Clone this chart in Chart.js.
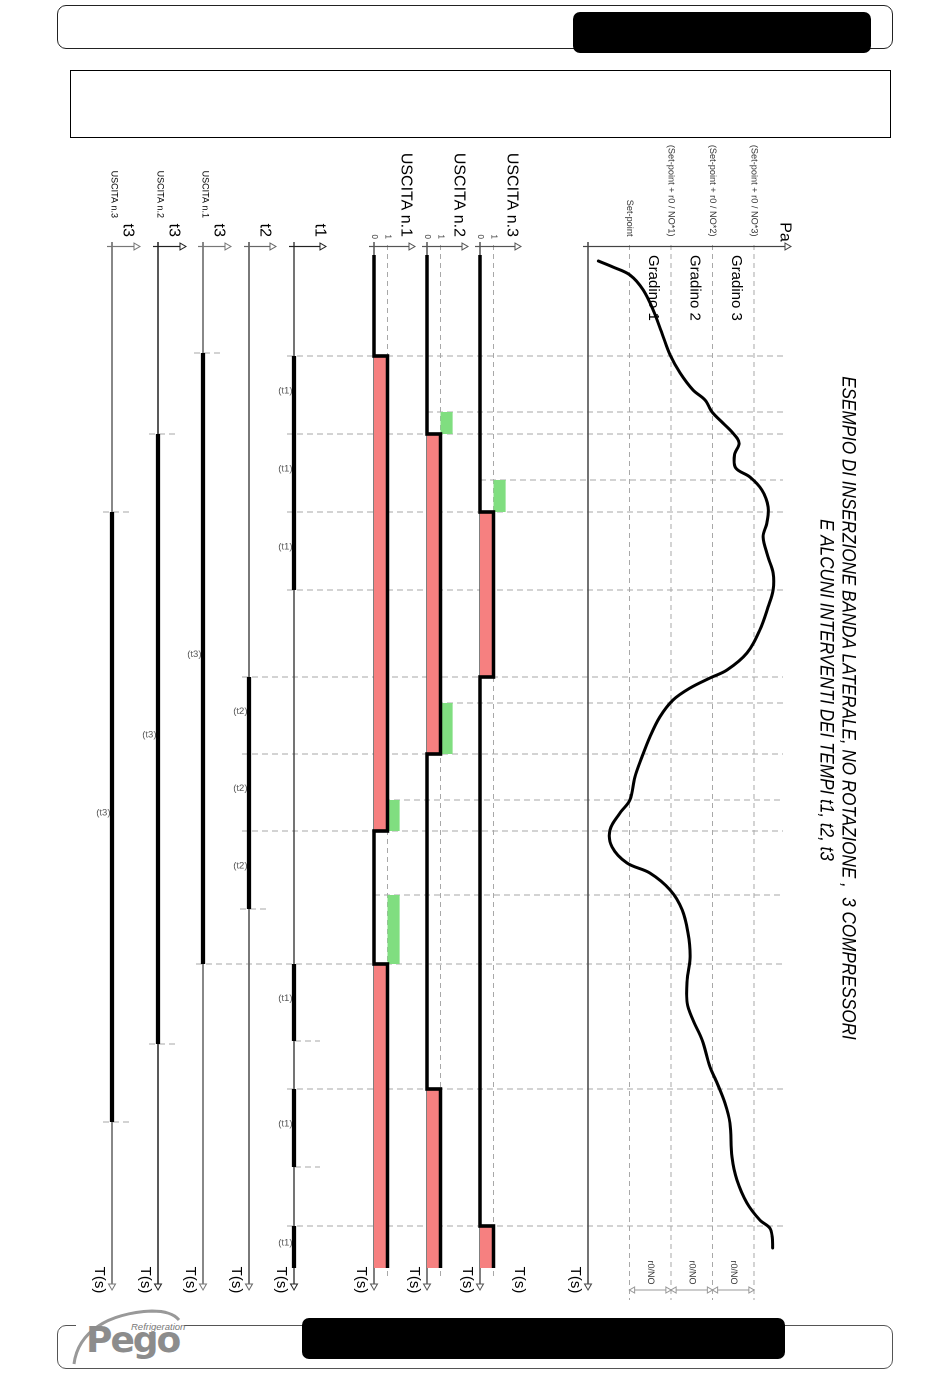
<!DOCTYPE html>
<html><head><meta charset="utf-8">
<script src="https://cdn.jsdelivr.net/npm/chart.js@4.4.1/dist/chart.umd.min.js"></script>
<style>
html,body{margin:0;padding:0;background:#fff;width:950px;height:1378px;overflow:hidden;position:relative;font-family:"Liberation Sans",Arial,sans-serif}
.abs{position:absolute;box-sizing:border-box}
#hdr{left:57px;top:5px;width:836px;height:44px;border:1.5px solid #222;border-radius:9px}
#hdrblk{left:573px;top:12px;width:298px;height:41px;background:#000;border-radius:7px}
#box{left:70px;top:70px;width:821px;height:68px;border:1px solid #000}
#ftr{left:57px;top:1325px;width:836px;height:44px;border:1.5px solid #555;border-radius:9px}
#ftrcover{left:76px;top:1318px;width:108px;height:14px;background:#fff}
#ftrblk{left:302px;top:1318px;width:483px;height:41px;background:#000;border-radius:7px}
#pego{left:86px;top:1318px;font:bold 36px "DejaVu Sans",sans-serif;color:#8c8c8c;letter-spacing:-2px;line-height:44px}
#refr{left:131px;top:1321px;font:italic 9.5px "Liberation Sans",Arial,sans-serif;color:#777}
#rot{position:absolute;left:0;top:0;width:1170px;height:800px;transform-origin:0 0;transform:translate(885px,140px) rotate(90deg)}
</style></head><body>
<div id="hdr" class="abs"></div>
<div id="hdrblk" class="abs"></div>
<div id="box" class="abs"></div>
<div id="ftr" class="abs"></div>
<div id="ftrcover" class="abs"></div>
<svg class="abs" style="left:60px;top:1300px" width="140" height="75"><path d="M14 64 C 18 32, 48 13, 92 11 C 106 11, 114 14, 119 20" fill="none" stroke="#999" stroke-width="3"/></svg>
<div id="refr" class="abs">Refrigeration</div>
<div id="pego" class="abs">Pego</div>
<div id="ftrblk" class="abs"></div>
<div id="rot"><canvas id="c" width="1170" height="800"></canvas></div>
<script>
// ================= DATA =================
// pressure curve: [time (s), pressure in units of the r0/NO band above the origin]
const pressureCurve = [[1.6,0.25],[2.2,0.60],[3.0,1.01],[4.5,1.33],[6.5,1.57],[8.8,1.78],[11.0,1.98],[12.8,2.22],[14.5,2.53],[15.5,2.82],[16.7,2.99],[17.8,3.25],[18.8,3.49],[19.8,3.64],[21.0,3.53],[22.3,3.56],[23.2,3.90],[24.5,4.19],[26.2,4.34],[27.8,4.31],[29.2,4.22],[31.2,4.34],[32.8,4.46],[34.5,4.46],[36.2,4.34],[38.5,4.14],[40.8,3.83],[42.5,3.35],[43.3,2.94],[44.3,2.46],[45.5,2.05],[47.2,1.73],[49.2,1.49],[51.2,1.30],[53.2,1.13],[55.5,1.01],[56.8,0.77],[58.5,0.53],[60.2,0.58],[61.8,0.94],[62.8,1.49],[64.5,1.98],[66.5,2.27],[68.8,2.41],[71.2,2.46],[73.5,2.39],[75.8,2.39],[77.5,2.53],[79.5,2.75],[82.2,2.94],[83.8,3.11],[85.8,3.30],[87.8,3.42],[91.2,3.47],[93.5,3.59],[95.8,3.83],[97.5,4.14],[98.3,4.38],[99.2,4.44],[100.3,4.45]];
const levelValues = [1, 2, 3, 4];
const levelLabels = ['Set-point', '(Set-point + r0 / NO*1)', '(Set-point + r0 / NO*2)', '(Set-point + r0 / NO*3)'];
const stepLabels = ['Gradino 1', 'Gradino 2', 'Gradino 3'];
const bandLabel = 'r0/NO';
// compressor outputs (state changes)
const out1Times = [1.0, 11.1, 58.6, 71.9, 102.3];
const out1States = [0, 1, 0, 1, 1];
const out2Times = [1.0, 18.9, 50.9, 84.4, 102.3];
const out2States = [0, 1, 0, 1, 1];
const out3Times = [1.0, 26.7, 43.2, 98.1, 102.3];
const out3States = [0, 1, 0, 1, 1];
// waiting requests (green)
const out1Waits = [[55.5, 58.6], [65.0, 71.9]];
const out2Waits = [[16.7, 18.9], [45.8, 50.9]];
const out3Waits = [[23.5, 26.7]];
// timers
const t1Runs = [[11.1, 18.9], [18.9, 26.7], [26.7, 34.5], [71.9, 79.6], [84.4, 92.2], [98.1, 102.3]];
const t2Runs = [[43.2, 50.9], [50.9, 58.6], [58.6, 66.4]];
const t3Out1Runs = [[10.8, 71.9]];
const t3Out2Runs = [[18.9, 79.9]];
const t3Out3Runs = [[26.7, 87.7]];
const outputNames = ['USCITA n.1', 'USCITA n.2', 'USCITA n.3'];
const timerNames = ['t1', 't2', 't3'];
const axisTimeLabel = 'T(s)';
const axisPressureLabel = 'Pa';
const title1 = 'ESEMPIO DI INSERZIONE BANDA LATERALE, NO ROTAZIONE ,  3 COMPRESSORI';
const title2 = 'E ALCUNI INTERVENTI DEI TEMPI t1, t2, t3';
// event guides: [time, channel the dashed line starts from]
const guideEvents = [[11.1,'yT1'],[16.7,'y2'],[18.9,'yT1'],[23.5,'y3'],[26.7,'yT1'],[34.5,'yT1'],[43.2,'yT2'],[45.8,'y2'],[50.9,'yT2'],[55.5,'y1'],[58.6,'yT2'],[65.0,'y1'],[71.9,'yT31'],[84.4,'yT1'],[98.1,'yT1']];
const timerEnds = [[10.8,'yT31'],[18.9,'yT32'],[26.7,'yT33'],[66.4,'yT2'],[79.6,'yT1'],[79.9,'yT32'],[87.7,'yT33'],[92.2,'yT1']];

// ================= LAYOUT =================
const PAGE_LEFT = 85, PAGE_RIGHT = 885, PAGE_TOP = 140, CW = 1170;
const T0_PAGE = 245, PX_PER_S = 10;
const channels = {
  yP: {zero: 588, ppu: 41.5},
  y3: {zero: 480, ppu: 13.5}, y2: {zero: 427, ppu: 13.5}, y1: {zero: 374, ppu: 13.5},
  yT1: {zero: 294, ppu: 10}, yT2: {zero: 249, ppu: 10},
  yT31: {zero: 203, ppu: 10}, yT32: {zero: 158, ppu: 10}, yT33: {zero: 112, ppu: 10}
};
const PINK = 'rgb(246,128,128)', GREEN = 'rgb(128,222,128)', AX = '#555', DASH = '#a8a8a8';
const FONT = '"Liberation Sans", Arial, sans-serif';

const scales = {x: {type: 'linear', display: false, min: (PAGE_TOP - T0_PAGE) / PX_PER_S, max: (PAGE_TOP + CW - T0_PAGE) / PX_PER_S}};
Object.keys(channels).forEach(id => {
  const c = channels[id];
  scales[id] = {type: 'linear', axis: 'y', display: false, min: (PAGE_LEFT - c.zero) / c.ppu, max: (PAGE_RIGHT - c.zero) / c.ppu};
});
const px = (id, n) => n / channels[id].ppu;   // page pixels -> channel units

const ds = [];
function addLine(id, pts, o) {
  ds.push(Object.assign({yAxisID: id, data: pts.map(p => ({x: p[0], y: p[1]})), showLine: true, pointRadius: 0, borderColor: '#000', borderWidth: 1, fill: false, order: 5}, o || {}));
}
function arrowOpts(color, rot) {
  return {pointRadius: [0, 4], pointStyle: 'triangle', pointRotation: [0, rot], pointBackgroundColor: '#fff', pointBorderColor: color, pointBorderWidth: 1};
}
function addAxis(id, color, width, stubTop) {
  addLine(id, [[-0.3, 0], [104.1, 0]], Object.assign({borderColor: color, borderWidth: width, order: 4}, arrowOpts(color, 90)));
  addLine(id, [[0.15, px(id, -5)], [0.15, px(id, stubTop)]], Object.assign({borderColor: color, borderWidth: 1.2, order: 4}, arrowOpts(color, 0)));
}
function merge(runs) {
  const m = [];
  runs.forEach(r => { if (m.length && Math.abs(m[m.length - 1][1] - r[0]) < 1e-6) m[m.length - 1][1] = r[1]; else m.push([r[0], r[1]]); });
  return m;
}
function addRuns(id, runs) {
  const pts = [];
  merge(runs).forEach((r, i, a) => { if (i) pts.push([(a[i - 1][1] + r[0]) / 2, null]); pts.push([r[0], 0], [r[1], 0]); });
  addLine(id, pts, {borderWidth: 4.2, spanGaps: false, order: 2, borderCapStyle: 'butt'});
}

// pressure panel
addLine('yP', pressureCurve, {borderWidth: 3, tension: 0.35, order: 1, borderCapStyle: 'round'});
levelValues.forEach(v => addLine('yP', [[0, v], [105.5, v]], {borderColor: DASH, borderDash: [5, 4], order: 9}));
levelValues.slice(1).forEach(v => addLine('yP', [[104.5, v - 0.92], [104.5, v - 0.08]],
  {borderColor: '#999', borderWidth: 1, order: 4, pointRadius: [3.5, 3.5], pointStyle: 'triangle', pointRotation: [180, 0], pointBackgroundColor: '#fff', pointBorderColor: '#999', pointBorderWidth: 1}));
addAxis('yP', '#444', 1.6, 199);

// outputs
[['y1', out1Times, out1States, out1Waits], ['y2', out2Times, out2States, out2Waits], ['y3', out3Times, out3States, out3Waits]].forEach(([id, ts, st, waits]) => {
  addLine(id, [[0, 1], [103.5, 1]], {borderColor: DASH, borderDash: [5, 4], order: 9});
  addAxis(id, AX, 1.4, 37);
  addLine(id, ts.map((t, i) => [t, st[i]]), {stepped: true, borderWidth: 3.6, fill: {value: 0}, backgroundColor: PINK, order: 2, borderJoinStyle: 'miter'});
  waits.forEach(w => addLine(id, [[w[0], 1.9], [w[1], 1.9]], {borderWidth: 0, fill: {value: 1}, backgroundColor: GREEN, order: 3}));
});

// timers
addAxis('yT1', '#222', 1.3, 28); addRuns('yT1', t1Runs);
addAxis('yT2', '#666', 1.8, 23); addRuns('yT2', t2Runs);
addAxis('yT31', '#777', 1.8, 24); addRuns('yT31', t3Out1Runs);
addAxis('yT32', '#222', 1.4, 24); addRuns('yT32', t3Out2Runs);
addAxis('yT33', '#777', 1.8, 24); addRuns('yT33', t3Out3Runs);

// ================= TEXTS =================
const labels = [];
function L(axis, t, v, text, size, align, extra) { labels.push(Object.assign({axis, t, v, text, font: size + 'px ' + FONT, align}, extra || {})); }
L('yP', -1.3, px('yP', 197), axisPressureLabel, 16, 'center');
levelValues.forEach((v, i) => L('yP', -0.85, v, levelLabels[i], 9.2, 'right', {color: '#333'}));
stepLabels.forEach((s, i) => L('yP', 1.0, i + 1.57, s, 15, 'left'));
levelValues.slice(1).forEach(v => L('yP', 102.75, v - 0.5, bandLabel, 9, 'center', {color: '#333'}));
L('yP', 46.3, px('yP', 260), title1, 19, 'center', {font: 'italic 19px ' + FONT, sx: 0.9});
L('yP', 44.5, px('yP', 238), title2, 19, 'center', {font: 'italic 19px ' + FONT, sx: 0.9});
['y1', 'y2', 'y3'].forEach((id, i) => {
  L(id, -0.8, px(id, 32), outputNames[i], 16, 'right');
  L(id, -0.6, 0, '0', 8, 'right', {color: '#333'});
  L(id, -0.6, 1, '1', 8, 'right', {color: '#333'});
});
L('yT1', -0.8, px('yT1', 26), timerNames[0], 16, 'right');
L('yT2', -0.8, px('yT2', 16), timerNames[1], 16, 'right');
['yT31', 'yT32', 'yT33'].forEach((id, i) => {
  L(id, -0.8, px(id, 16), timerNames[2], 16, 'right');
  L(id, -2.7, px(id, 2), outputNames[i], 9, 'right');
});
Object.keys(channels).forEach(id => L(id, 103.5, px(id, -13), axisTimeLabel, 15, 'center'));
L('yP', 103.5, px('yP', 519 - 588), axisTimeLabel, 15, 'center');
[['yT1', t1Runs, '(t1)'], ['yT2', t2Runs, '(t2)'], ['yT31', t3Out1Runs, '(t3)'], ['yT32', t3Out2Runs, '(t3)'], ['yT33', t3Out3Runs, '(t3)']].forEach(([id, runs, txt]) =>
  runs.forEach(r => L(id, (r[0] + r[1]) / 2 - 0.4, px(id, -1.5), txt, 9.5, 'right', {rot: -90, color: '#555'})));

const guidePlugin = {
  id: 'guides',
  beforeDatasetsDraw(chart) {
    const ctx = chart.ctx, xs = chart.scales.x;
    ctx.save(); ctx.strokeStyle = DASH; ctx.lineWidth = 1; ctx.setLineDash([6, 4]);
    const seg = (t, a0, v0, a1, v1) => { const x = xs.getPixelForValue(t); ctx.beginPath(); ctx.moveTo(x, chart.scales[a0].getPixelForValue(v0)); ctx.lineTo(x, chart.scales[a1].getPixelForValue(v1)); ctx.stroke(); };
    guideEvents.forEach(([t, id]) => seg(t, id, id[1] === 'T' ? px(id, -7) : 0, 'yP', px('yP', 195)));
    timerEnds.forEach(([t, id]) => id === 'yT1' ? seg(t, id, px(id, 1), id, px(id, 26)) : seg(t, id, px(id, -9), id, px(id, 19)));
    ctx.restore();
  }
};
const textPlugin = {
  id: 'texts',
  afterDatasetsDraw(chart) {
    const ctx = chart.ctx, xs = chart.scales.x;
    labels.forEach(l => {
      const ys = chart.scales[l.axis];
      ctx.save();
      ctx.translate(xs.getPixelForValue(l.t), ys.getPixelForValue(l.v));
      if (l.rot) ctx.rotate(l.rot * Math.PI / 180);
      if (l.sx) ctx.scale(l.sx, 1);
      ctx.font = l.font; ctx.fillStyle = l.color || '#000';
      ctx.textAlign = l.align; ctx.textBaseline = 'middle';
      ctx.fillText(l.text, 0, 0);
      ctx.restore();
    });
  }
};

new Chart(document.getElementById('c'), {
  type: 'scatter',
  data: {datasets: ds},
  options: {
    responsive: false, animation: false, events: [], devicePixelRatio: 2,
    layout: {padding: 0, autoPadding: false},
    elements: {point: {radius: 0}},
    plugins: {legend: {display: false}, tooltip: {enabled: false}},
    scales
  },
  plugins: [guidePlugin, textPlugin]
});
</script>
</body></html>
